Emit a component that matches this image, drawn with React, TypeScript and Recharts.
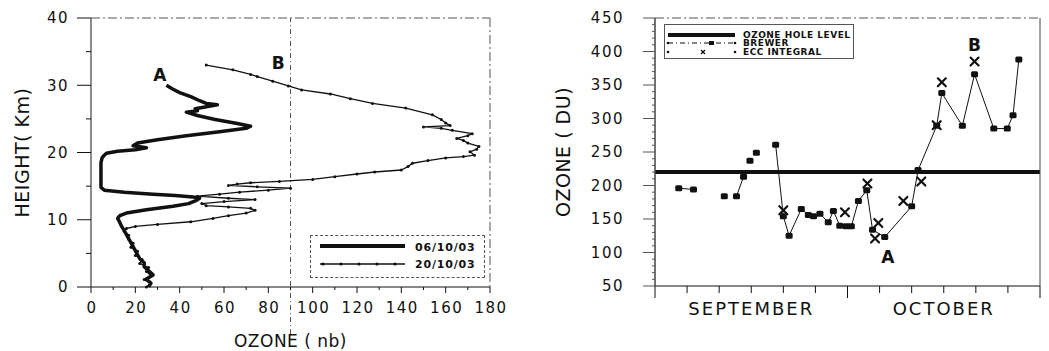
import { ScatterChart, Scatter, ComposedChart, Line, XAxis, YAxis, ReferenceLine, ReferenceDot, Legend } from 'recharts';

const FONT = '"DejaVu Sans", Verdana, sans-serif';
const INK = '#111';
const GREY = '#555';
const BORDER_DASH = '9 3 2 3';

// left panel: ozonesonde profiles, height (km) against ozone partial pressure (nb)
const nbTicks = [0, 10, 20, 30, 40, 50, 60, 70, 80, 90, 100, 110, 120, 130, 140, 150, 160, 170, 180];
const kmTicks = [0, 5, 10, 15, 20, 25, 30, 35, 40];
const kmStubs = [5, 10, 15, 20, 25, 30, 35];
const profileNames = ['06/10/03', '20/10/03'];

const profileAHeight = [0, 0.6, 1.2, 1.8, 2.4, 3.0, 3.6, 4.2, 4.8, 5.4, 6.0, 6.6, 7.2, 7.8, 8.4, 8.9, 9.6, 10.2, 10.6, 11.0, 11.5, 12.0, 12.4, 12.8, 13.2, 13.4, 13.6, 13.8, 14.1, 14.4, 14.8, 15.5, 16.5, 17.5, 18.5, 19.2, 19.6, 19.9, 20.2, 20.4, 20.7, 21.0, 21.4, 21.9, 22.5, 23.1, 23.6, 23.9, 24.3, 24.9, 25.5, 26.0, 26.2, 26.5, 26.8, 27.1, 27.3, 27.7, 28.3, 28.9, 29.4, 30.0];
const profileAOzone = [26, 27, 25, 28, 26, 24, 24, 22, 21, 20, 19, 18, 17, 16, 15, 14, 13, 12, 13, 16, 25, 37, 44, 47, 49, 46, 38, 28, 15, 6, 4.5, 4.5, 4.5, 4.5, 4.5, 5, 6, 7, 12, 20, 25, 19, 21, 30, 43, 58, 70, 72, 66, 56, 48, 43, 48, 47, 52, 57, 52, 49, 45, 40, 37, 34];

const profileBHeight = [0, 0.5, 1.1, 1.7, 2.3, 2.9, 3.5, 4.1, 4.7, 5.3, 5.9, 6.5, 7.1, 7.7, 8.3, 8.7, 9.0, 9.3, 9.7, 10.2, 10.6, 11.0, 11.4, 11.7, 11.9, 12.1, 12.4, 12.7, 13.0, 13.2, 13.5, 13.8, 14.1, 14.4, 14.7, 14.9, 15.1, 15.3, 15.5, 15.7, 16.0, 16.4, 16.8, 17.1, 17.4, 17.9, 18.4, 18.8, 19.2, 19.4, 19.6, 20.1, 20.5, 20.9, 21.4, 21.8, 22.1, 22.5, 22.8, 23.3, 23.6, 23.8, 24.0, 24.4, 24.9, 25.6, 26.6, 27.3, 28.0, 28.7, 29.3, 29.9, 30.6, 31.3, 31.6, 32.3, 33.0];
const profileBOzone = [25, 27, 24, 27, 25, 26, 22, 23, 20, 21, 18, 19, 17, 17, 15, 16, 20, 30, 45, 55, 62, 70, 74, 72, 62, 52, 50, 60, 74, 62, 48, 58, 67, 80, 90, 75, 62, 66, 72, 85, 100, 110, 120, 128, 140, 143, 145, 152, 160, 168, 173, 171, 174, 175, 170, 168, 165, 170, 172, 163, 158, 150, 162, 160, 158, 154, 142, 127, 117, 108, 95, 89, 82, 75, 72, 64, 52];

// right panel: total ozone (DU), day 0 = 1 September
const dayTicks = [0, 5, 10, 15, 20, 25, 30, 35, 40, 45, 50, 55, 60];
const monthNames = ['SEPTEMBER', 'OCTOBER'];
const monthCentres = [15, 45];
const duTicks = [50, 60, 70, 80, 90, 100, 110, 120, 130, 140, 150, 160, 170, 180, 190, 200, 210, 220, 230, 240, 250, 260, 270, 280, 290, 300, 310, 320, 330, 340, 350, 360, 370, 380, 390, 400, 410, 420, 430, 440, 450];
const holeLevel = 220;
const seriesNames = ['OZONE HOLE LEVEL', 'BREWER', 'ECC INTEGRAL'];

// null = no connecting line between neighbours
const brewerDays = [3.7, 6.0, 8.4, 10.8, 11.7, 12.7, 13.8, 14.3, 14.8, 15.3, 15.8, 17.3, 18.8, 20.0, 20.9, 22.8, 23.9, 24.7, 25.7, 27.0, 27.8, 28.8, 29.8, 30.6, 31.7, 33.0, 33.9, 35.8, 40.0, 41.0, 43.9, 44.7, 47.9, 49.8, 52.8, 54.9, 55.8, 56.7];
const brewerValues = [196, 194, null, 184, null, 184, 213, null, 237, null, 249, null, 261, 154, 125, 165, 156, 154, 158, 145, 162, 140, 139, 139, 177, 193, 134, 123, 169, 223, 289, 338, 289, 366, 285, 285, 305, 388];

const eccDays = [20.0, 29.6, 33.1, 34.3, 34.8, 38.7, 41.5, 43.9, 44.7, 49.8];
const eccValues = [163, 160, 203, 121, 144, 177, 206, 290, 354, 385];

const profileA = profileAHeight.map((h, i) => ({ x: profileAOzone[i], y: h }));
const profileB = profileBHeight.map((h, i) => ({ x: profileBOzone[i], y: h }));
const brewer = brewerDays.map((d, i) => ({ d, v: brewerValues[i] }));
const ecc = eccDays.map((d, i) => ({ d, v: eccValues[i] }));

const tickFont = { fontFamily: FONT, fontSize: 15, letterSpacing: 1.5, fill: INK };
const markFont = { fontFamily: FONT, fontSize: 17, fontWeight: 700, fill: INK };

const verticalTitle = (text: string, x: number) => (props: any) => {
  const vb = props.viewBox;
  const cy = vb.y + vb.height / 2;
  return (
    <text x={x} y={cy} transform={`rotate(-90 ${x} ${cy})`} textAnchor="middle" dominantBaseline="central"
      style={{ fontFamily: FONT, fontSize: 19, letterSpacing: 0.5, fill: INK }}>{text}</text>
  );
};

function NbTick({ x, y, payload }: any) {
  const major = payload.value % 20 === 0;
  return (
    <g>
      <line x1={x} x2={x} y1={y} y2={y + (major ? 6 : 3)} stroke={INK} />
      {major && <text x={x + 1} y={y + 15} dy="0.71em" textAnchor="middle" style={tickFont}>{payload.value}</text>}
    </g>
  );
}

function KmTick({ x, y, payload }: any) {
  const major = payload.value % 10 === 0;
  return (
    <g>
      <line x1={x - (major ? 14 : 5)} x2={x} y1={y} y2={y} stroke={INK} />
      {major && <text x={x - 22} y={y} dy="0.36em" textAnchor="end" style={tickFont}>{payload.value}</text>}
    </g>
  );
}

function RightStub({ x, y, len }: any) {
  return <line x1={x} x2={x + len} y1={y} y2={y} stroke={GREY} />;
}

function DayTick({ x, y, payload }: any) {
  const v = payload.value;
  const idx = monthCentres.indexOf(v);
  return (
    <g>
      <line x1={x} x2={x} y1={y} y2={y + (v % 30 === 0 ? 12 : 7)} stroke={INK} />
      {idx >= 0 && (
        <text x={x} y={y + 16} dy="0.71em" textAnchor="middle"
          style={{ fontFamily: FONT, fontSize: 18, letterSpacing: 2, fill: INK }}>{monthNames[idx]}</text>
      )}
    </g>
  );
}

function DuTick({ x, y, payload }: any) {
  const major = payload.value % 50 === 0;
  return (
    <g>
      <line x1={x - (major ? 12 : 3)} x2={x} y1={y} y2={y} stroke={GREY} />
      {major && <text x={x - 31} y={y} dy="0.36em" textAnchor="end" style={tickFont}>{payload.value}</text>}
    </g>
  );
}

const noMark = () => <g />;
const smallDot = (p: any) => <circle cx={p.cx} cy={p.cy} r={1.5} fill={INK} />;

function BrewerDot({ cx, cy }: any) {
  if (cx == null || cy == null) return null;
  return <rect x={cx - 3.5} y={cy - 3} width={7} height={6} rx={1.5} fill={INK} />;
}

function eccMark(p: any) {
  const { cx, cy } = p;
  return (
    <g stroke={INK} strokeWidth={2.2} strokeLinecap="round">
      <line x1={cx - 4} y1={cy - 4} x2={cx + 4} y2={cy + 4} />
      <line x1={cx - 4} y1={cy + 4} x2={cx + 4} y2={cy - 4} />
    </g>
  );
}

const legendFont = { fontFamily: FONT, fontSize: 11, fontWeight: 700, letterSpacing: 0.8, fill: INK };

function ProfileLegend() {
  const dots = [12, 30, 48, 66, 84];
  return (
    <div style={{ width: 175, height: 43, boxSizing: 'border-box', border: `1px dashed ${GREY}`, background: '#fff' }}>
      <svg width={173} height={41} style={{ display: 'block' }}>
        <line x1={9} x2={94} y1={10} y2={10} stroke={INK} strokeWidth={4} />
        <text x={104} y={11} dy="0.36em" style={legendFont}>{profileNames[0]}</text>
        <line x1={9} x2={94} y1={28} y2={28} stroke={INK} strokeWidth={1.3} />
        {dots.map((cx) => <circle key={cx} cx={cx} cy={28} r={1.6} fill={INK} />)}
        <text x={104} y={28} dy="0.36em" style={legendFont}>{profileNames[1]}</text>
      </svg>
    </div>
  );
}

const smallLegendFont = { fontFamily: FONT, fontSize: 9, fontWeight: 700, letterSpacing: 0.5, fill: INK };

function OzoneLegend() {
  return (
    <div style={{ width: 190, height: 35, boxSizing: 'border-box', border: `1px solid ${GREY}`, background: '#fff' }}>
      <svg width={188} height={33} style={{ display: 'block' }}>
        <line x1={3} x2={70} y1={10} y2={10} stroke={INK} strokeWidth={4} />
        <text x={78} y={10} dy="0.36em" style={smallLegendFont}>{seriesNames[0]}</text>
        <line x1={3} x2={70} y1={18} y2={18} stroke={INK} strokeWidth={1} strokeDasharray="5 3 1 3" />
        <circle cx={3} cy={18} r={1.3} fill={INK} />
        <circle cx={70} cy={18} r={1.3} fill={INK} />
        <rect x={44} y={16} width={5} height={4} fill={INK} />
        <text x={78} y={18} dy="0.36em" style={smallLegendFont}>{seriesNames[1]}</text>
        <circle cx={3} cy={27} r={1.3} fill={INK} />
        <circle cx={70} cy={27} r={1.3} fill={INK} />
        <g stroke={INK} strokeWidth={1.2}>
          <line x1={36} y1={25} x2={40} y2={29} />
          <line x1={36} y1={29} x2={40} y2={25} />
        </g>
        <text x={78} y={27} dy="0.36em" style={smallLegendFont}>{seriesNames[2]}</text>
      </svg>
    </div>
  );
}

function ProfileChart() {
  return (
    <ScatterChart width={520} height={351} margin={{ top: 18, right: 0, bottom: 0, left: 31 }}>
      <XAxis type="number" dataKey="x" domain={[0, 180]} ticks={nbTicks} interval={0} tick={<NbTick />} tickLine={false}
        tickSize={0} tickMargin={0} height={64} axisLine={{ stroke: INK }}
        label={{ value: 'OZONE ( nb)', position: 'insideBottom', offset: 4, fontFamily: FONT, fontSize: 17, letterSpacing: 0.5, fill: INK }} />
      <YAxis yAxisId="l" type="number" dataKey="y" domain={[0, 40]} ticks={kmTicks} interval={0} tick={<KmTick />} tickLine={false}
        tickSize={0} tickMargin={0} width={60} axisLine={{ stroke: '#666', strokeWidth: 1.5 }}
        label={{ content: verticalTitle('HEIGHT( Km)', 22) }} />
      <YAxis yAxisId="r" orientation="right" type="number" domain={[0, 40]} ticks={kmStubs} interval={0} tick={<RightStub len={6} />}
        tickLine={false} tickSize={0} tickMargin={0} width={30} axisLine={{ stroke: GREY, strokeDasharray: BORDER_DASH }} />
      <ReferenceLine yAxisId="l" y={40} stroke={GREY} strokeDasharray={BORDER_DASH} />
      <ReferenceLine yAxisId="l" segment={[{ x: 90, y: -7 }, { x: 90, y: 40 }]} ifOverflow="visible" stroke={GREY} strokeDasharray="5 3 1 3" />
      <Scatter yAxisId="l" name={profileNames[0]} data={profileA} fill={INK} line={{ strokeWidth: 3.5, strokeLinejoin: 'round' }}
        lineType="joint" shape={noMark} isAnimationActive={false} />
      <Scatter yAxisId="l" name={profileNames[1]} data={profileB} fill={INK} line={{ strokeWidth: 1.3, strokeLinejoin: 'round' }}
        lineType="joint" shape={smallDot} isAnimationActive={false} />
      <ReferenceDot yAxisId="l" x={31} y={31.5} r={0} fill="none" stroke="none" ifOverflow="visible" label={{ value: 'A', position: 'center', ...markFont }} />
      <ReferenceDot yAxisId="l" x={84.5} y={33.3} r={0} fill="none" stroke="none" ifOverflow="visible" label={{ value: 'B', position: 'center', ...markFont }} />
      <Legend layout="vertical" align="center" verticalAlign="middle" content={<ProfileLegend />}
        wrapperStyle={{ left: 310, top: 235, width: 175, height: 43 }} />
    </ScatterChart>
  );
}

function TotalOzoneChart() {
  return (
    <ComposedChart width={519} height={351} margin={{ top: 18, right: 0, bottom: 0, left: 0 }}>
      <XAxis type="number" dataKey="d" domain={[0, 60]} ticks={dayTicks} interval={0} tick={<DayTick />} tickLine={false}
        tickSize={0} tickMargin={0} height={65} axisLine={{ stroke: INK }} />
      <YAxis yAxisId="l" type="number" dataKey="v" domain={[50, 450]} ticks={duTicks} interval={0} tick={<DuTick />} tickLine={false}
        tickSize={0} tickMargin={0} width={125} axisLine={{ stroke: '#444', strokeWidth: 1.5 }}
        label={{ content: verticalTitle('OZONE ( DU)', 33) }} />
      <YAxis yAxisId="r" orientation="right" type="number" domain={[50, 450]} ticks={duTicks} interval={0} tick={<RightStub len={5} />}
        tickLine={false} tickSize={0} tickMargin={0} width={9} axisLine={{ stroke: '#444' }} />
      <ReferenceLine yAxisId="l" y={450} stroke={GREY} strokeDasharray={BORDER_DASH} />
      <ReferenceLine yAxisId="l" y={holeLevel} stroke={INK} strokeWidth={4} />
      <Line yAxisId="l" name={seriesNames[1]} data={brewer} dataKey="v" stroke={INK} strokeWidth={1} dot={<BrewerDot />}
        activeDot={false} connectNulls={false} isAnimationActive={false} />
      <Scatter yAxisId="l" name={seriesNames[2]} data={ecc} dataKey="v" fill={INK} shape={eccMark} isAnimationActive={false} />
      <ReferenceDot yAxisId="l" x={36.3} y={93} r={0} fill="none" stroke="none" ifOverflow="visible" label={{ value: 'A', position: 'center', ...markFont }} />
      <ReferenceDot yAxisId="l" x={49.8} y={410} r={0} fill="none" stroke="none" ifOverflow="visible" label={{ value: 'B', position: 'center', ...markFont }} />
      <Legend layout="vertical" align="center" verticalAlign="middle" content={<OzoneLegend />}
        wrapperStyle={{ left: 134, top: 24, width: 190, height: 35 }} />
    </ComposedChart>
  );
}

export default function App() {
  return (
    <div style={{ position: 'absolute', left: 0, top: 0, width: 1049, height: 351, background: '#fff' }}>
      <div style={{ position: 'absolute', left: 0, top: 0 }}>
        <ProfileChart />
      </div>
      <div style={{ position: 'absolute', left: 530, top: 0 }}>
        <TotalOzoneChart />
      </div>
    </div>
  );
}
